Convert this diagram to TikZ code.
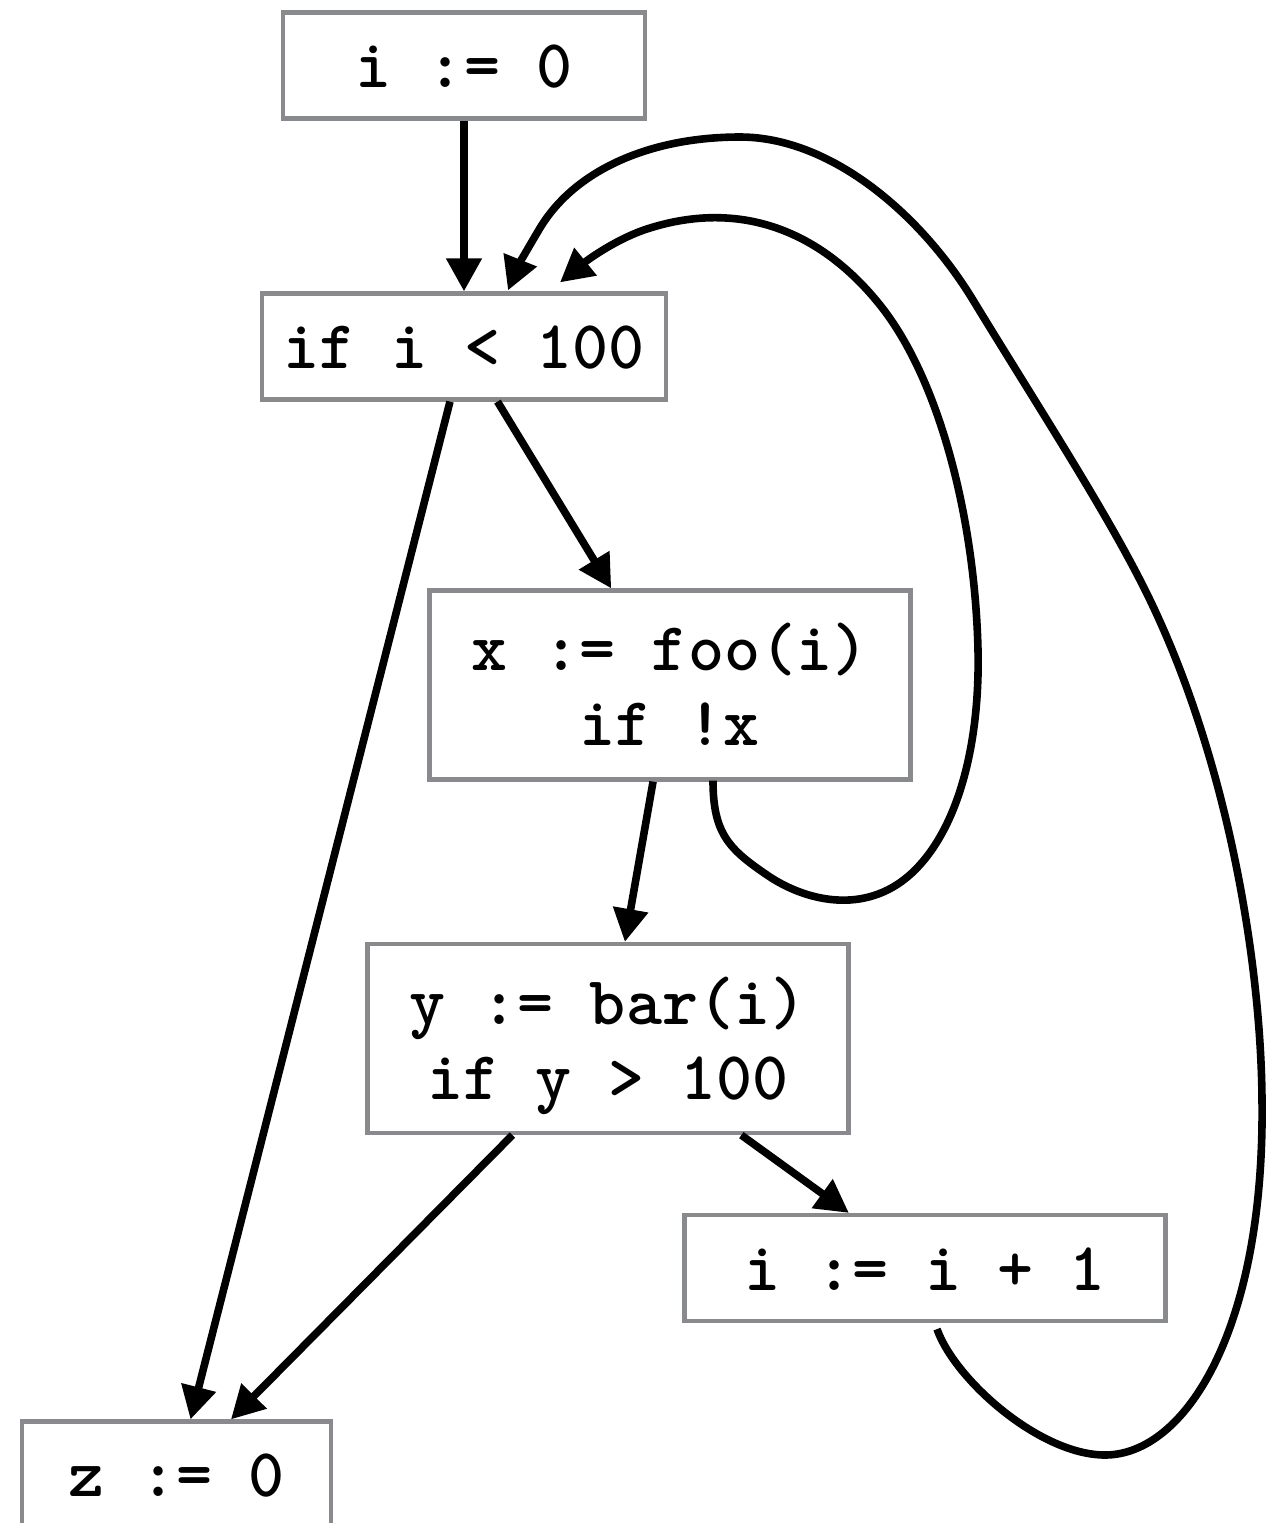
\documentclass[tikz,border=0pt]{standalone}
\usepackage{fontspec}
\usetikzlibrary{arrows.meta}
\definecolor{boxgray}{RGB}{136,138,141}
\newcommand{\lineone}[1]{\rule{0pt}{23pt}\smash{#1}}
\newcommand{\linetwo}[1]{\smash{#1}}
\begin{document}
\begin{tikzpicture}[x=0.5pt,y=-0.5pt,
  blk/.style={draw=boxgray, line width=2.1pt, inner sep=0pt, align=center,
    font=\ttfamily\bfseries\fontsize{34.3pt}{37.5pt}\selectfont},
  single/.style={minimum height=53pt, text height=22pt, text depth=0pt},
  double/.style={minimum height=94.5pt},
  edge/.style={line width=3.8pt, -{Triangle[length=16.5pt,width=17pt]}}]
\useasboundingbox (0,0) rectangle (1280,1523);
\node[blk, single, minimum width=181pt] (A) at (464,65.5) {i := 0};
\node[blk, single, minimum width=202pt] (B) at (464,346.5) {if i < 100};
\node[blk, double, minimum width=240.5pt] (C) at (670,685) {\lineone{x := foo(i)}\\\linetwo{if !x}};
\node[blk, double, minimum width=240.5pt] (D) at (608,1038.5) {\lineone{y := bar(i)}\\\linetwo{if y > 100}};
\node[blk, single, minimum width=240.5pt] (E) at (925,1268) {i := i + 1};
\node[blk, single, minimum width=154.5pt] (F) at (176.5,1474.5) {z := 0};

\coordinate (Cout) at ([xshift=21.5pt,yshift=0.5pt]C.south);
\coordinate (Eout) at ([xshift=6pt,yshift=-3pt]E.south);
\coordinate (Bin1) at ([xshift=48pt,yshift=4.5pt]B.north);
\coordinate (Bin2) at ([xshift=22pt,yshift=0.5pt]B.north);

\draw[edge] (A) -- (B);
\draw[edge] (B) -- (C);
\draw[edge] (B) -- (F);
\draw[edge] (C) -- (D);
\draw[edge] (D) -- (F);
\draw[edge] (D) -- (E);

\draw[edge] (Cout) .. controls (713,835) and (730,850) .. (770,877)
  .. controls (810,903) and (870,915) .. (915,870)
  .. controls (960,825) and (980,740) .. (978,650)
  .. controls (975,520) and (940,380) .. (880,305)
  .. controls (820,230) and (740,200) .. (650,228)
  .. controls (620,237) and (590,258) .. (Bin1);

\draw[edge] (Eout) .. controls (955,1380) and (1040,1455) .. (1105,1455)
  .. controls (1185,1455) and (1265,1330) .. (1262,1100)
  .. controls (1261,960) and (1227,760) .. (1150,600)
  .. controls (1110,517) and (1040,410) .. (973,300)
  .. controls (920,213) and (830,137) .. (740,137)
  .. controls (650,137) and (575,170) .. (540,228)
  .. controls (528,248) and (517,268) .. (Bin2);
\end{tikzpicture}
\end{document}
